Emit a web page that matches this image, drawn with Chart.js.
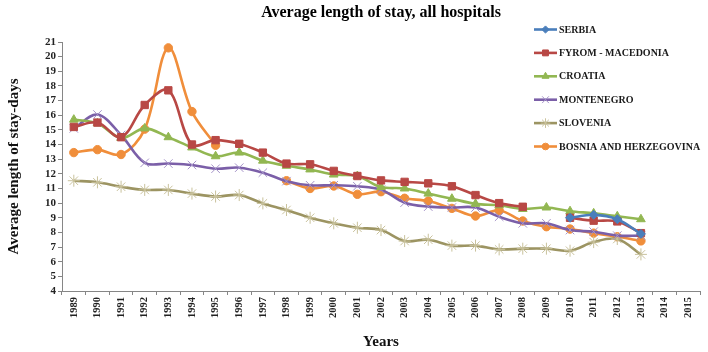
<!DOCTYPE html>
<html>
<head>
<meta charset="utf-8">
<script src="https://cdn.jsdelivr.net/npm/chart.js@4"></script>
<style>
  body { margin: 0; background: #fff; }
</style>
</head>
<body>
<canvas id="stay-chart" width="708" height="352"></canvas>
<script>
const years = ['1989','1990','1991','1992','1993','1994','1995','1996','1997','1998','1999','2000','2001','2002',
  '2003','2004','2005','2006','2007','2008','2009','2010','2011','2012','2013','2014','2015'];

const serbia = [null,null,null,null,null,null,null,null,null,null,null,null,null,null,
  null,null,null,null,null,null,null,9.0,9.2,8.9,7.9,null,null];
const macedonia = [15.2,15.5,14.5,16.7,17.7,14.0,14.3,14.05,13.45,12.7,12.65,12.2,11.85,11.55,
  11.45,11.35,11.15,10.55,10.0,9.75,null,9.0,8.8,8.75,7.95,null,null];
const croatia = [15.7,15.45,14.45,15.1,14.5,13.8,13.2,13.45,12.9,12.55,12.3,11.95,11.85,11.1,
  11.0,10.65,10.3,9.95,9.85,9.6,9.7,9.45,9.3,9.1,8.9,null,null];
const montenegro = [15.1,16.05,14.65,12.75,12.7,12.6,12.35,12.42,12.08,11.5,11.22,11.22,11.15,10.92,
  10.03,9.76,9.7,9.7,9.07,8.62,8.62,8.16,8.05,7.78,7.78,null,null];
const slovenia = [11.53,11.42,11.12,10.9,10.9,10.65,10.45,10.55,9.98,9.53,9.0,8.62,8.32,8.16,
  7.41,7.5,7.1,7.1,6.84,6.89,6.89,6.75,7.34,7.55,6.5,null,null];
const bosnia = [13.45,13.65,13.32,15.05,20.6,16.25,13.95,null,null,11.53,11.0,11.17,10.6,10.78,
  10.33,10.14,9.64,9.12,9.5,8.78,8.39,8.23,7.95,7.7,7.42,null,null];

const serif = "'Liberation Serif', 'Times New Roman', serif";

function series(label, data, color, pointStyle, radius, markerColor) {
  return {
    label: label,
    data: data,
    borderColor: color,
    backgroundColor: color,
    pointBackgroundColor: markerColor || color,
    pointBorderColor: markerColor || color,
    pointStyle: pointStyle,
    pointRadius: radius,
    pointBorderWidth: 1,
    borderWidth: 2.6,
    tension: 0.35,
    spanGaps: false
  };
}

const datasets = [
  series('SERBIA', serbia, '#4A7EBB', 'rectRot', 4.5),
  series('FYROM - MACEDONIA', macedonia, '#B84845', 'rect', 5.2),
  series('CROATIA', croatia, '#92B752', 'triangle', 5),
  series('MONTENEGRO', montenegro, '#7B5FA8', 'crossRot', 6, '#A593C8'),
  series('SLOVENIA', slovenia, '#9C9462', 'star', 6, '#C9C29C'),
  series('BOSNIA AND HERZEGOVINA', bosnia, '#F08E3B', 'circle', 4.2)
];

// legend drawn inside the plot area, top right
const sideLegend = {
  id: 'sideLegend',
  afterDraw(chart) {
    const ctx = chart.ctx;
    const x0 = 534, top = 29.5, step = 23.4;
    ctx.save();
    chart.data.datasets.forEach((ds, i) => {
      const y = top + i * step;
      ctx.strokeStyle = ds.borderColor;
      ctx.lineWidth = 2.6;
      ctx.beginPath();
      ctx.moveTo(x0, y);
      ctx.lineTo(x0 + 23, y);
      ctx.stroke();
      ctx.fillStyle = ds.pointBackgroundColor;
      ctx.strokeStyle = ds.pointBorderColor;
      ctx.lineWidth = 1;
      Chart.helpers.drawPoint(ctx, {pointStyle: ds.pointStyle, radius: ds.pointRadius * 0.8, rotation: 0, borderWidth: 1}, x0 + 11.5, y);
      ctx.fillStyle = '#1a1a1a';
      ctx.font = 'bold 10px ' + serif;
      ctx.textBaseline = 'middle';
      ctx.textAlign = 'left';
      ctx.fillText(ds.label, x0 + 25, y + 0.5);
    });
    ctx.restore();
  }
};

new Chart(document.querySelector('#stay-chart').getContext('2d'), {
  type: 'line',
  data: {
    labels: years,
    datasets: datasets
  },
  options: {
    responsive: false,
    animation: false,
    layout: { padding: { left: 0, right: 8, top: 0, bottom: 0 } },
    plugins: {
      legend: { display: false },
      tooltip: { enabled: false },
      title: {
        display: true,
        fullSize: false,
        text: 'Average length of stay, all hospitals',
        color: '#000',
        font: { family: serif, size: 16, weight: 'bold' },
        padding: { top: 3, bottom: 19.8 }
      }
    },
    scales: {
      x: {
        offset: true,
        afterFit(scale) { scale.height = 61; },
        border: { color: '#868686', width: 1 },
        grid: { display: true, drawOnChartArea: false, drawTicks: true, tickLength: 4, color: '#868686', offset: true },
        ticks: {
          color: '#222',
          font: { family: serif, size: 10.5, weight: 'bold' },
          minRotation: 90,
          maxRotation: 90,
          autoSkip: false,
          padding: 2
        },
        title: {
          display: true,
          text: 'Years',
          color: '#111',
          font: { family: serif, size: 15, weight: 'bold' },
          padding: { top: 0, bottom: 1 }
        }
      },
      y: {
        min: 4,
        max: 21,
        afterFit(scale) { scale.width = 62; },
        border: { color: '#868686', width: 1 },
        grid: { display: true, drawOnChartArea: false, drawTicks: true, tickLength: 4, color: '#868686' },
        ticks: {
          stepSize: 1,
          autoSkip: false,
          color: '#222',
          font: { family: serif, size: 11, weight: 'bold' },
          padding: 2
        },
        title: {
          display: true,
          text: 'Average length of stay-days',
          color: '#111',
          font: { family: serif, size: 15, weight: 'bold' },
          padding: { top: 5, bottom: 0 }
        }
      }
    }
  },
  plugins: [sideLegend]
});
</script>
</body>
</html>
